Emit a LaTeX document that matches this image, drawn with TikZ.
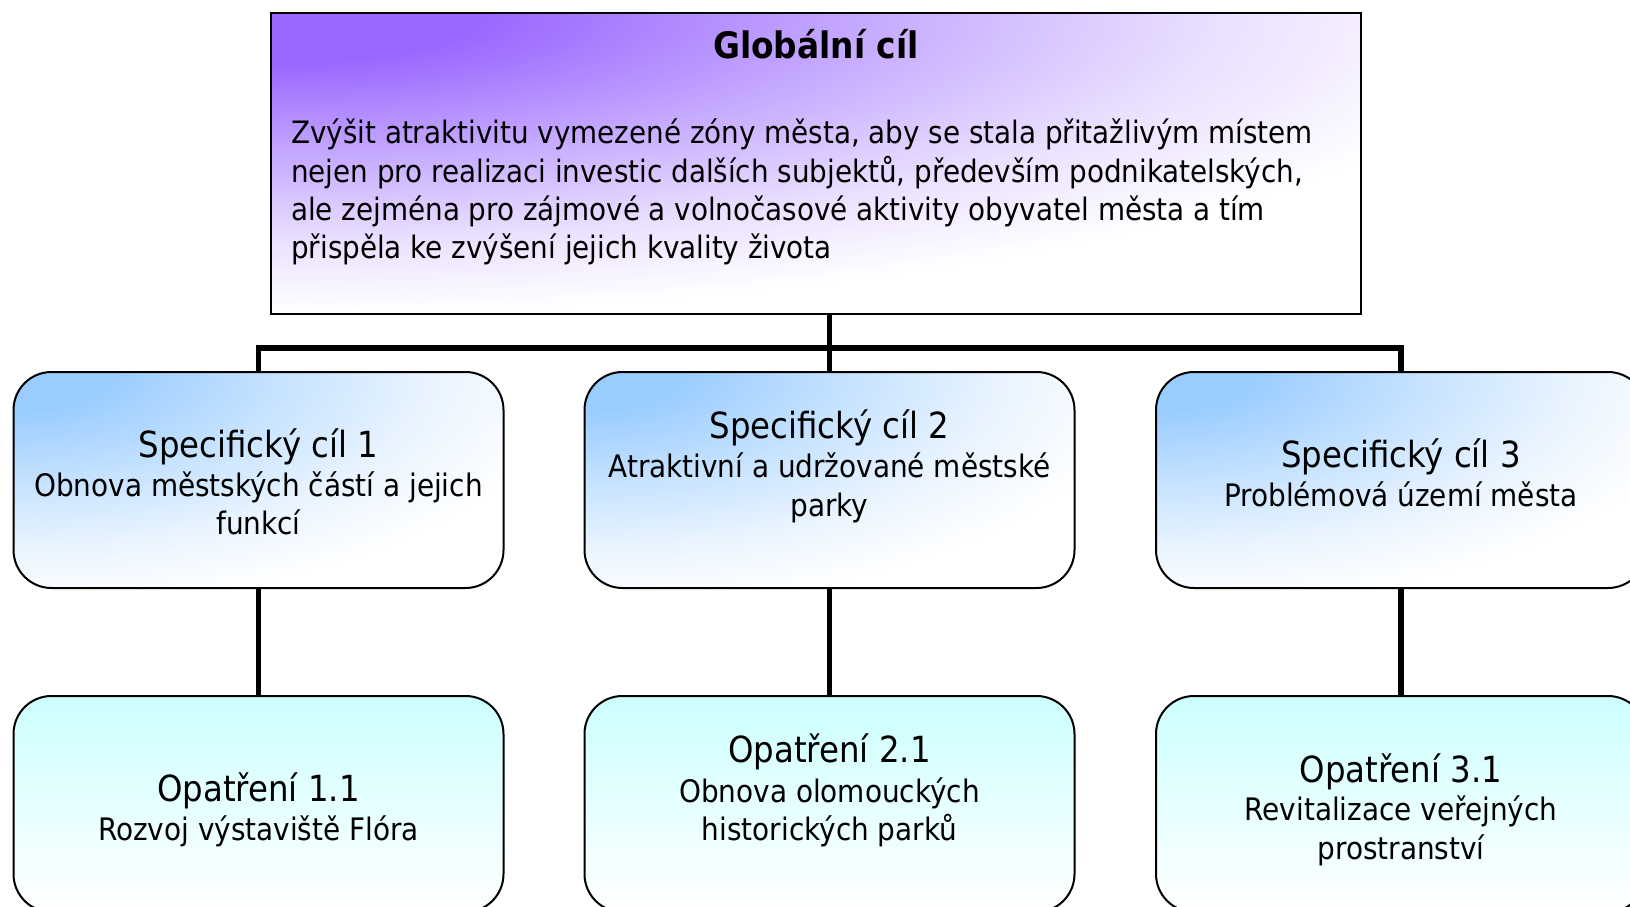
\documentclass[tikz,border=0pt]{standalone}
\usepackage{fontspec}
\setmainfont{DejaVu Sans Condensed}
\usetikzlibrary{calc}

\definecolor{purpleC}{HTML}{9966FF}
\definecolor{blueC}{HTML}{99CCFF}
\definecolor{cyanC}{HTML}{CCFFFF}
\colorlet{purpleA}{purpleC!55!white}
\colorlet{purpleB}{purpleC!20!white}
\colorlet{blueA}{blueC!55!white}
\colorlet{blueB}{blueC!20!white}

\pgfdeclareradialshading{purplerad}{\pgfpointorigin}{color(0bp)=(purpleC); color(4bp)=(purpleC); color(12bp)=(purpleA); color(19bp)=(purpleB); color(25bp)=(white); color(50bp)=(white)}
\pgfdeclareradialshading{bluerad}{\pgfpointorigin}{color(0bp)=(blueC); color(4bp)=(blueC); color(12bp)=(blueA); color(19bp)=(blueB); color(25bp)=(white); color(50bp)=(white)}

\tikzset{
  box/.style={draw=black, line width=2pt, inner sep=0pt, outer sep=0pt, anchor=north west},
  globbox/.style={box, minimum width=1090pt, minimum height=301pt, fill=white,
    path picture={\shade[shading=purplerad] (path picture bounding box.north west) ellipse [x radius=1250pt, y radius=300pt];}},
  goalbox/.style={box, rounded corners=38pt, minimum width=490pt, minimum height=216pt, fill=white,
    path picture={\shade[shading=bluerad] (path picture bounding box.north west) ellipse [x radius=560pt, y radius=235pt];}},
  measbox/.style={box, rounded corners=38pt, minimum width=490pt, minimum height=216pt, top color=cyanC, bottom color=white},
  link/.style={line width=5.5pt},
  ttl/.style={anchor=base, inner sep=0pt, font=\fontsize{36}{40}\selectfont},
  sub/.style={anchor=base, inner sep=0pt, font=\fontsize{31}{38}\selectfont},
  body/.style={anchor=base west, inner sep=0pt, font=\fontsize{30.9}{38}\selectfont},
}

\begin{document}
\begin{tikzpicture}[x=1pt, y=-1pt]
\useasboundingbox (0,0) rectangle (1630,907);
\clip (0,0) rectangle (1630,907);
\fill[white] (0,0) rectangle (1630,907);

% global goal
\node[globbox] (glob) at (271,13) {};
\node[anchor=base, inner sep=0pt, font=\fontsize{36.5}{40}\selectfont\bfseries] (globt) at (816,59) {Globální cíl};
\node[body] (gl1) at (291,143) {Zvýšit atraktivitu vymezené zóny města, aby se stala přitažlivým místem};
\node[body] (gl2) at (291,182) {nejen pro realizaci investic dalších subjektů, především podnikatelských,};
\node[body] (gl3) at (291,220) {ale zejména pro zájmové a volnočasové aktivity obyvatel města a tím};
\node[body] (gl4) at (291,258) {přispěla ke zvýšení jejich kvality života};

% specific goals
\node[goalbox] (s1) at (13.5,372) {};
\node[goalbox] (s2) at (584.5,372) {};
\node[goalbox] (s3) at (1156,372) {};

% measures
\node[measbox] (m1) at (13.5,696) {};
\node[measbox] (m2) at (584.5,696) {};
\node[measbox] (m3) at (1156,696) {};

% connectors
\coordinate (bar) at (829.5,348);
\draw[link] (s2.north |- glob.south) -- (bar);
\draw[link] (s1.north) |- (bar) -| (s3.north);
\draw[link] (bar) -- (s2.north);
\draw[link] (s1.south) -- (m1.north);
\draw[link] (s2.south) -- (m2.north);
\draw[link] (s3.south) -- (m3.north);

% texts level 2
\node[ttl] (s1a) at (258.5,457) {Specifický cíl 1};
\node[sub] (s1b) at (258.5,496) {Obnova městských částí a jejich};
\node[sub] (s1c) at (258.5,534) {funkcí};

\node[ttl] (s2a) at (829.5,438) {Specifický cíl 2};
\node[sub] (s2b) at (829.5,477) {Atraktivní a udržované městské};
\node[sub] (s2c) at (829.5,516) {parky};

\node[ttl] (s3a) at (1401,467) {Specifický cíl 3};
\node[sub] (s3b) at (1401,506) {Problémová území města};

% texts level 3
\node[ttl] (m1a) at (258.5,801) {Opatření 1.1};
\node[sub] (m1b) at (258.5,840) {Rozvoj výstaviště Flóra};

\node[ttl] (m2a) at (829.5,762) {Opatření 2.1};
\node[sub] (m2b) at (829.5,802) {Obnova olomouckých};
\node[sub] (m2c) at (829.5,840) {historických parků};

\node[ttl] (m3a) at (1401,782) {Opatření 3.1};
\node[sub] (m3b) at (1401,820) {Revitalizace veřejných};
\node[sub] (m3c) at (1401,859) {prostranství};
\end{tikzpicture}
\end{document}
